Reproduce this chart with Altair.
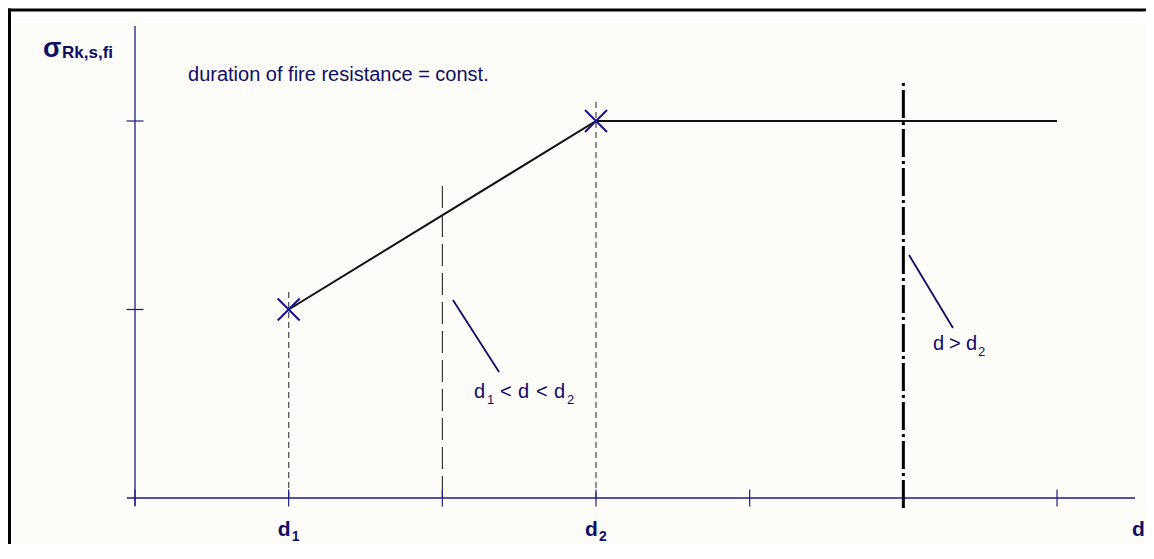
import altair as alt
import pandas as pd

# ---------------- data ----------------
curve_d = [1, 3, 6]            # d1, d2, end of plateau
curve_sigma = [1, 2, 2]        # sigma_Rk,s,fi values
marker_d = [1, 3]
marker_sigma = [1, 2]
x_tick_values = [0, 1, 2, 3, 4, 5, 6]
y_tick_values = [1, 2]

# ---------------- layout helpers ----------------
W, H = 1138, 536
# x: 153.67 px per unit, value 0 at 127 px from the left of the canvas
XS = alt.Scale(domain=[-127 / 153.67, (W - 127) / 153.67], nice=False, zero=False)
# y: 188.5 px per unit, value 0 at 490 px from the top of the canvas
YS = alt.Scale(domain=[(490 - H) / 188.5, 490 / 188.5], nice=False, zero=False)

AXIS_C = "#1c1c84"
MARK_C = "#14148c"
TEXT_C = "#0e0e66"
BG_C = "#fdfcf8"
FONT = "Liberation Sans"


def X(f="x"):
    return alt.X(f"{f}:Q", scale=XS, axis=None)


def Y(f="y"):
    return alt.Y(f"{f}:Q", scale=YS, axis=None)


def vrule(x, y0, y1, color, width, dash=None):
    kw = dict(color=color, strokeWidth=width)
    if dash:
        kw["strokeDash"] = dash
    return alt.Chart(pd.DataFrame({"x": [x], "y": [y0], "y2": [y1]})).mark_rule(**kw).encode(
        x=X(), y=Y(), y2="y2:Q")


def seg(x0, y0, x1, y1, color, width):
    return alt.Chart(pd.DataFrame({"x": [x0], "y": [y0], "x2": [x1], "y2": [y1]})).mark_rule(
        color=color, strokeWidth=width).encode(x=X(), y=Y(), x2="x2:Q", y2="y2:Q")


def txt(t, x, y, size, weight="normal", dx=0, dy=0, align="left"):
    return alt.Chart(pd.DataFrame({"x": [x], "y": [y], "t": [t]})).mark_text(
        align=align, baseline="alphabetic", font=FONT, fontSize=size, fontWeight=weight,
        color=TEXT_C, dx=dx, dy=dy).encode(x=X(), y=Y(), text="t:N")


one = pd.DataFrame({"a": [0]})


def box(x0, x1, y0, y1, color):
    return alt.Chart(one).mark_rect(color=color).encode(
        x=alt.value(x0), x2=alt.value(x1), y=alt.value(y0), y2=alt.value(y1))


# frame (top and left edges) and background
bg = box(7, W, 11, H, BG_C)
frame_top = alt.Chart(one).mark_rule(color="black", strokeWidth=3).encode(
    x=alt.value(0), x2=alt.value(W), y=alt.value(2))
frame_left = alt.Chart(one).mark_rule(color="black", strokeWidth=3).encode(
    x=alt.value(1.5), y=alt.value(0.5), y2=alt.value(H))
# masks over the canvas' right and bottom edges
mask_right = box(W - 3, W, 11, H, BG_C)
mask_right_top = box(W - 3, W, 3.6, 11, "white")
mask_bottom = box(7, W, H - 3, H, BG_C)

# axes
y_axis = vrule(0, -0.04, 2.504, AXIS_C, 1.3)
x_axis = alt.Chart(pd.DataFrame({"x": [-0.052], "x2": [6.508], "y": [0]})).mark_rule(
    color=AXIS_C, strokeWidth=1.3).encode(x=X(), x2="x2:Q", y=Y())
x_ticks = alt.Chart(pd.DataFrame({"x": x_tick_values, "y": [0] * len(x_tick_values)})).mark_tick(
    orient="vertical", size=17, thickness=1.2, color=AXIS_C, opacity=1).encode(x=X(), y=Y())
y_ticks = alt.Chart(pd.DataFrame({"x": [0] * len(y_tick_values), "y": y_tick_values})).mark_tick(
    orient="horizontal", size=17, thickness=1.2, color=AXIS_C, opacity=1).encode(x=X(), y=Y())

# reference verticals
ref_d1 = vrule(1, 0, 1.093, "#555555", 1.3, [6, 4])
ref_d2 = vrule(3, 0, 2.11, "#555555", 1.3, [6, 4])
ref_mid = vrule(2, 0, 1.66, "#111111", 1, [22, 7])
ref_big = vrule(5, -0.053, 2.207, "#000000", 3, [28, 4, 3, 4])

# curve and markers
curve = alt.Chart(pd.DataFrame({"x": curve_d, "y": curve_sigma})).mark_line(
    color="#111111", strokeWidth=2).encode(x=X(), y=Y())
markers = alt.Chart(pd.DataFrame({"x": marker_d, "y": marker_sigma})).mark_point(
    shape="M-1,-1L1,1M-1,1L1,-1", size=484, filled=False, strokeWidth=2,
    color=MARK_C, opacity=1).encode(x=X(), y=Y())

# leader lines
lead1 = seg(2.069, 1.050, 2.369, 0.668, TEXT_C, 1.8)
lead2 = seg(5.037, 1.289, 5.323, 0.902, TEXT_C, 1.8)

# texts
A1x, A1y = 2.206, 0.5305   # anchor of "d1 < d < d2"
A2x, A2y = 5.193, 0.785    # anchor of "d > d2"
texts = [
    txt("σ", -0.599, 2.340, 27, "bold"),
    txt("Rk,s,fi", -0.475, 2.335, 17, "bold"),
    txt("duration of fire resistance = const.", 0.345, 2.212, 20),
    # d1 < d < d2
    txt("d", A1x, A1y, 20),
    txt("1", A1x, A1y, 13, dx=13, dy=6),
    txt("<", A1x, A1y, 20, dx=26),
    txt("d", A1x, A1y, 20, dx=44),
    txt("<", A1x, A1y, 20, dx=62),
    txt("d", A1x, A1y, 20, dx=80),
    txt("2", A1x, A1y, 13, dx=93, dy=6),
    # d > d2
    txt("d", A2x, A2y, 20),
    txt(">", A2x, A2y, 20, dx=16),
    txt("d", A2x, A2y, 20, dx=33),
    txt("2", A2x, A2y, 13, dx=45, dy=6),
    # axis labels
    txt("d", 1, -0.2016, 21, "bold", dx=-11),
    txt("1", 1, -0.2016, 14, "bold", dx=3, dy=5),
    txt("d", 3, -0.2016, 21, "bold", dx=-11),
    txt("2", 3, -0.2016, 14, "bold", dx=3, dy=5),
    txt("d", 6.488, -0.2016, 21, "bold"),
]

chart = alt.layer(
    bg, frame_top, frame_left,
    ref_d1, ref_d2, ref_mid,
    y_axis, x_axis, x_ticks, y_ticks,
    ref_big,
    curve, markers,
    lead1, lead2,
    mask_right, mask_right_top, mask_bottom,
    *texts,
).properties(
    width=W, height=H,
    autosize=alt.AutoSizeParams(type="none"),
    padding=0,
).configure(background="white").configure_view(stroke="transparent", strokeWidth=0)

chart.save("out.html", embed_options={"renderer": "svg", "actions": False})
